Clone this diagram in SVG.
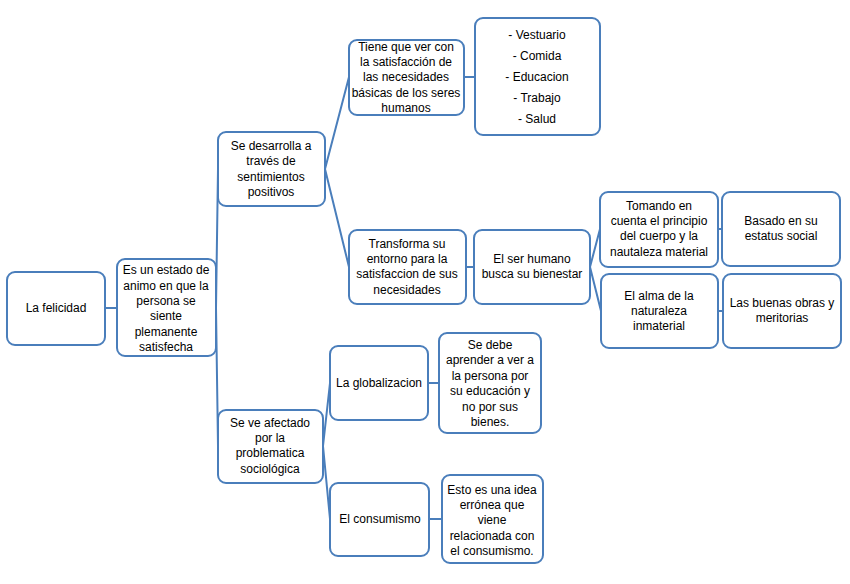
<svg xmlns="http://www.w3.org/2000/svg" width="850" height="584" viewBox="0 0 850 584">
<style>
rect{fill:#fff;stroke:#4a7ebb;stroke-width:2}
.c path{fill:none;stroke:#4a7ebb;stroke-width:2}
text{font-family:"Liberation Sans",Arial,sans-serif;font-size:12px;fill:#000;text-anchor:middle}
</style>
<rect x="0" y="0" width="850" height="584" style="stroke:none"/>
<g class="c">
<path d="M105 308H117"/>
<path d="M216 308L218 169M216 308L218 446"/>
<path d="M325 169L349 77M325 169L349 267"/>
<path d="M323 446L330 383M323 446L330 519"/>
<path d="M464 77H475M466 267H474"/>
<path d="M590 267L600 229M590 267L601 311"/>
<path d="M718 229H722M718 311H723"/>
<path d="M428 383H439M429 519H442"/>
</g>
<g id="n1"><rect x="7" y="272" width="98" height="73" rx="8"/><text x="56" y="312">La felicidad</text></g>
<g id="n2"><rect x="117" y="259" width="99" height="97" rx="8"/><text x="166" y="274">Es un estado de</text><text x="166" y="290">animo en que la</text><text x="166" y="305">persona se</text><text x="166" y="320">siente</text><text x="166" y="336">plemanente</text><text x="166" y="351">satisfecha</text></g>
<g id="n3"><rect x="218" y="132" width="107" height="74" rx="8"/><text x="271" y="150">Se desarrolla a</text><text x="271" y="165">través de</text><text x="271" y="181">sentimientos</text><text x="271" y="196">positivos</text></g>
<g id="n4"><rect x="218" y="410" width="105" height="73" rx="8"/><text x="270" y="427">Se ve afectado</text><text x="270" y="442">por la</text><text x="270" y="457">problematica</text><text x="270" y="473">sociológica</text></g>
<g id="n5"><rect x="349" y="40" width="115" height="75" rx="8"/><text x="406" y="51">Tiene que ver con</text><text x="406" y="66">la satisfacción de</text><text x="406" y="81">las necesidades</text><text x="406" y="97">básicas de los seres</text><text x="406" y="112">humanos</text></g>
<g id="n6"><rect x="475" y="18" width="125" height="117" rx="8"/><text x="537" y="39">- Vestuario</text><text x="537" y="60">- Comida</text><text x="537" y="81">- Educacion</text><text x="537" y="102">- Trabajo</text><text x="537" y="123">- Salud</text></g>
<g id="n7"><rect x="349" y="230" width="117" height="74" rx="8"/><text x="407" y="248">Transforma su</text><text x="407" y="263">entorno para la</text><text x="407" y="278">satisfaccion de sus</text><text x="407" y="294">necesidades</text></g>
<g id="n8"><rect x="474" y="230" width="116" height="74" rx="8"/><text x="532" y="263">El ser humano</text><text x="532" y="278">busca su bienestar</text></g>
<g id="n9"><rect x="600" y="192" width="118" height="75" rx="8"/><text x="659" y="210">Tomando en</text><text x="659" y="225">cuenta el principio</text><text x="659" y="240">del cuerpo y la</text><text x="659" y="256">nautaleza material</text></g>
<g id="n10"><rect x="722" y="192" width="118" height="74" rx="8"/><text x="781" y="225">Basado en su</text><text x="781" y="240">estatus social</text></g>
<g id="n11"><rect x="601" y="274" width="117" height="74" rx="8"/><text x="659" y="300">El alma de la</text><text x="659" y="315">naturaleza</text><text x="659" y="330">inmaterial</text></g>
<g id="n12"><rect x="723" y="274" width="118" height="74" rx="8"/><text x="782" y="307">Las buenas obras y</text><text x="782" y="322">meritorias</text></g>
<g id="n13"><rect x="330" y="346" width="98" height="74" rx="8"/><text x="379" y="387">La globalizacion</text></g>
<g id="n14"><rect x="439" y="333" width="102" height="100" rx="8"/><text x="490" y="349">Se debe</text><text x="490" y="364">aprender a ver a</text><text x="490" y="380">la persona por</text><text x="490" y="395">su educación y</text><text x="490" y="411">no por sus</text><text x="490" y="426">bienes.</text></g>
<g id="n15"><rect x="330" y="483" width="99" height="73" rx="8"/><text x="380" y="523">El consumismo</text></g>
<g id="n16"><rect x="442" y="475" width="101" height="88" rx="8"/><text x="492" y="494">Esto es una idea</text><text x="492" y="509">errónea que</text><text x="492" y="524">viene</text><text x="492" y="540">relacionada con</text><text x="492" y="555">el consumismo.</text></g>
</svg>
